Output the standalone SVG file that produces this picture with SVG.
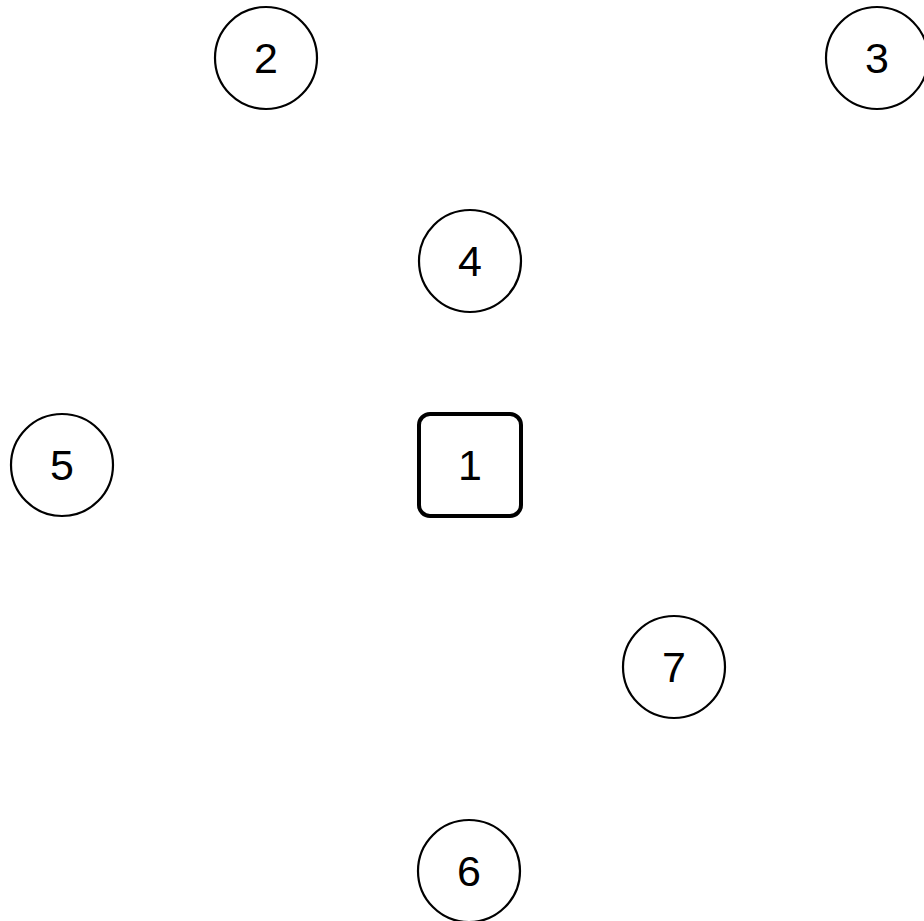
<svg xmlns="http://www.w3.org/2000/svg" width="924" height="921" viewBox="0 0 924 921">
<style>
.c{fill:#fff;stroke:#000;stroke-width:2.2}
.s{fill:#fff;stroke:#000;stroke-width:4}
.t{font-family:"Liberation Sans",Arial,sans-serif;font-size:43px;fill:#000;text-anchor:middle;dominant-baseline:central}
</style>
<rect width="924" height="921" fill="#fff"/>
<g id="connectors"></g>
<g id="node1"><rect class="s" x="419" y="414" width="102" height="102" rx="11"/><text class="t" x="470" y="465">1</text></g>
<g id="node2"><circle class="c" cx="266" cy="58" r="51"/><text class="t" x="266" y="58">2</text></g>
<g id="node3"><circle class="c" cx="877" cy="58" r="51"/><text class="t" x="877" y="58">3</text></g>
<g id="node4"><circle class="c" cx="470" cy="261" r="51"/><text class="t" x="470" y="261">4</text></g>
<g id="node5"><circle class="c" cx="62" cy="465" r="51"/><text class="t" x="62" y="465">5</text></g>
<g id="node6"><circle class="c" cx="469" cy="871" r="51"/><text class="t" x="469" y="871">6</text></g>
<g id="node7"><circle class="c" cx="674" cy="667" r="51"/><text class="t" x="674" y="667">7</text></g>
</svg>
